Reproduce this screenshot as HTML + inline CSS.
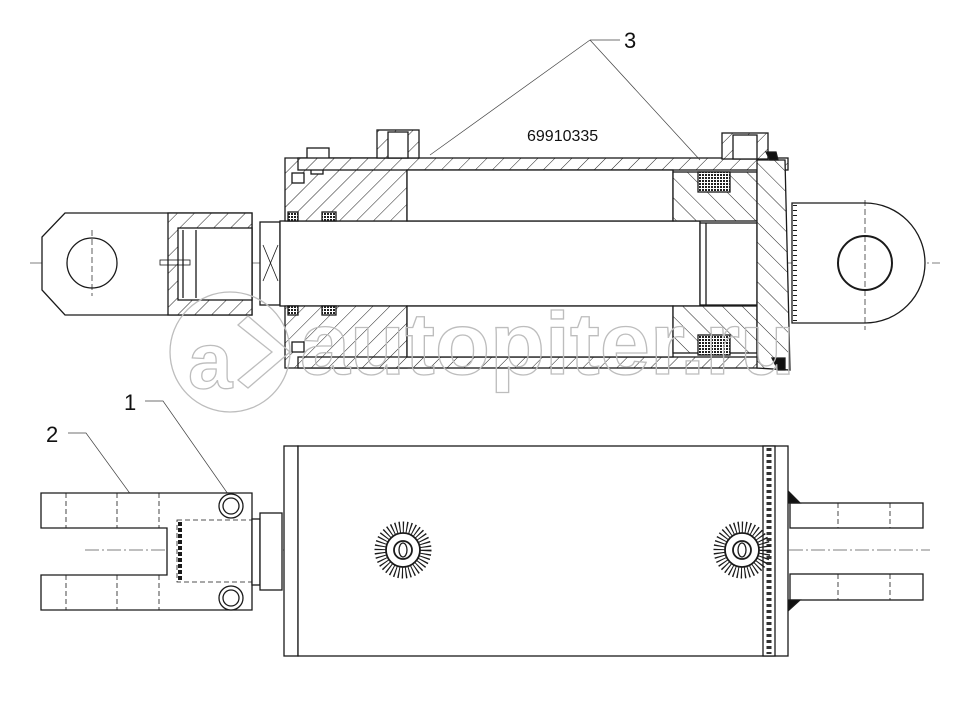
<!DOCTYPE html>
<html><head><meta charset="utf-8"><style>
html,body{margin:0;padding:0;background:#fff}
svg{display:block}
text{font-family:"Liberation Sans",sans-serif}
</style></head><body>
<svg width="970" height="708" viewBox="0 0 970 708" xmlns="http://www.w3.org/2000/svg">
<defs>
<pattern id="h" patternUnits="userSpaceOnUse" width="12" height="12" patternTransform="rotate(45)">
<rect width="12" height="12" fill="#fff"/><line x1="0" y1="0" x2="0" y2="12" stroke="#222" stroke-width="1"/></pattern>
<pattern id="h2" patternUnits="userSpaceOnUse" width="14" height="14" patternTransform="rotate(-45)">
<rect width="14" height="14" fill="#fff"/><line x1="0" y1="0" x2="0" y2="14" stroke="#222" stroke-width="1"/></pattern>
<pattern id="x" patternUnits="userSpaceOnUse" width="3" height="3">
<rect width="3" height="3" fill="#fff"/><rect width="2" height="2" fill="#222"/></pattern>
</defs>
<g fill="none" stroke="#1a1a1a" stroke-width="1.3">
<!-- centre lines -->
<line x1="30" y1="263" x2="940" y2="263" stroke="#555" stroke-width="0.8" stroke-dasharray="14 3 2 3"/>
<line x1="85" y1="550" x2="930" y2="550" stroke="#555" stroke-width="0.8" stroke-dasharray="14 3 2 3"/>
<!-- left eye -->
<path d="M65,213 L252,213 L252,315 L65,315 L42,290 L42,237 Z" fill="#fff"/>
<rect x="168" y="213" width="84" height="102" fill="url(#h)"/>
<rect x="178" y="228" width="74" height="72" fill="#fff"/>
<line x1="183" y1="230" x2="183" y2="298"/>
<line x1="196" y1="230" x2="196" y2="298"/>
<circle cx="92" cy="263" r="25"/>
<line x1="92" y1="230" x2="92" y2="296" stroke-width="0.7" stroke-dasharray="6 3"/>
<rect x="160" y="260" width="30" height="5" stroke-width="0.8"/>
<rect x="260" y="222" width="20" height="83" fill="#fff"/>
<path d="M263,245 L278,281 M278,245 L263,281" stroke-width="0.8"/>
<!-- rod -->
<rect x="280" y="221" width="420" height="85" fill="#fff"/>
<!-- head -->
<path d="M285,158 L407,158 L407,221 L285,221 Z" fill="url(#h)"/>
<path d="M285,306 L407,306 L407,368 L285,368 Z" fill="url(#h)"/>
<rect x="288" y="212" width="10" height="9" fill="url(#x)"/>
<rect x="322" y="212" width="14" height="9" fill="url(#x)"/>
<rect x="288" y="306" width="10" height="9" fill="url(#x)"/>
<rect x="322" y="306" width="14" height="9" fill="url(#x)"/>
<rect x="292" y="173" width="12" height="10" fill="#fff"/>
<rect x="292" y="342" width="12" height="10" fill="#fff"/>
<rect x="307" y="148" width="22" height="12" fill="#fff"/>
<rect x="311" y="160" width="12" height="14" fill="#fff"/>
<!-- tube -->
<rect x="298" y="158" width="490" height="12" fill="url(#h)"/>
<rect x="298" y="357" width="490" height="11" fill="url(#h)"/>
<rect x="407" y="170" width="266" height="51" fill="#fff"/>
<rect x="407" y="306" width="266" height="51" fill="#fff"/>
<!-- ports -->
<rect x="377" y="130" width="42" height="28" fill="url(#h)"/>
<rect x="388" y="132" width="20" height="26" fill="#fff"/>
<rect x="722" y="133" width="46" height="26" fill="url(#h)"/>
<rect x="733" y="135" width="24" height="24" fill="#fff"/>
<!-- piston -->
<rect x="673" y="172" width="84" height="49" fill="url(#h2)"/>
<rect x="673" y="306" width="84" height="47" fill="url(#h2)"/>
<rect x="698" y="172" width="32" height="20" fill="url(#x)"/>
<rect x="698" y="335" width="32" height="20" fill="url(#x)"/>
<rect x="700" y="223" width="57" height="82" fill="#fff"/>
<line x1="706" y1="223" x2="706" y2="305"/>
<!-- end cap -->
<path d="M757,160 L785,160 L790,370 L757,368 Z" fill="url(#h2)"/>
<path d="M766,152 L770,160 L778,160 L776,152 Z" fill="#111"/>
<path d="M772,358 L785,358 L785,370 L778,370 Z" fill="#111"/>
<!-- right eye -->
<path d="M792,203 L865,203 A60,60 0 0 1 865,323 L792,323 Z" fill="#fff"/>
<path d="M795,205 L795,321" stroke-width="4" stroke-dasharray="1 4"/>
<circle cx="865" cy="263" r="27" stroke-width="2"/>
<line x1="865" y1="200" x2="865" y2="330" stroke-width="0.7" stroke-dasharray="6 3"/>
<!-- labels -->
<text x="527" y="141" font-size="16" fill="#111" stroke="none">69910335</text>
<text x="624" y="48" font-size="22" fill="#111" stroke="none">3</text>
<path d="M590,40 L620,40 M590,40 L430,155 M590,40 L700,160" stroke="#444" stroke-width="0.7"/>
<text x="124" y="410" font-size="22" fill="#111" stroke="none">1</text>
<path d="M145,401 L163,401 L228,494" stroke="#444" stroke-width="0.7"/>
<text x="46" y="442" font-size="22" fill="#111" stroke="none">2</text>
<path d="M68,433 L86,433 L142,510" stroke="#444" stroke-width="0.7"/>
<!-- bottom view fork -->
<path d="M41,493 L252,493 L252,610 L41,610 L41,575 L167,575 L167,528 L41,528 Z" fill="#fff"/>
<g stroke-width="0.8" stroke-dasharray="5 3">
<line x1="66" y1="493" x2="66" y2="528"/><line x1="66" y1="575" x2="66" y2="610"/>
<line x1="117" y1="493" x2="117" y2="528"/><line x1="117" y1="575" x2="117" y2="610"/>
<line x1="159" y1="493" x2="159" y2="528"/><line x1="159" y1="575" x2="159" y2="610"/>
<rect x="177" y="520" width="75" height="62"/>
</g>
<path d="M180,522 L180,580" stroke-width="4" stroke-dasharray="4 2"/>
<circle cx="231" cy="506" r="12" fill="#fff"/><circle cx="231" cy="506" r="8"/>
<circle cx="231" cy="598" r="12" fill="#fff"/><circle cx="231" cy="598" r="8"/>
<rect x="252" y="519" width="8" height="66" fill="#fff"/>
<rect x="260" y="513" width="22" height="77" fill="#fff"/>
<!-- bottom tube -->
<rect x="284" y="446" width="14" height="210" fill="#fff"/>
<rect x="298" y="446" width="490" height="210" fill="#fff"/>
<rect x="763" y="446" width="12" height="210" fill="#fff"/>
<line x1="769" y1="448" x2="769" y2="654" stroke-width="5" stroke-dasharray="3 3" stroke="#333"/>
<!-- lugs -->
<rect x="790" y="503" width="133" height="25" fill="#fff"/>
<rect x="790" y="574" width="133" height="26" fill="#fff"/>
<g stroke-width="0.8" stroke-dasharray="5 3">
<line x1="838" y1="503" x2="838" y2="528"/><line x1="838" y1="574" x2="838" y2="600"/>
<line x1="890" y1="503" x2="890" y2="528"/><line x1="890" y1="574" x2="890" y2="600"/>
</g>
<path d="M789,492 L800,503 L789,503 Z M789,610 L800,600 L789,600 Z" fill="#111"/>
<!-- weld rosettes -->
<g>
<circle cx="403" cy="550" r="23" stroke-width="11" stroke-dasharray="1.2 2.4"/>
<circle cx="403" cy="550" r="17" stroke-width="1.8" fill="#fff"/>
<circle cx="403" cy="550" r="9" stroke-width="1.8"/>
<ellipse cx="403" cy="550" rx="4" ry="7"/>
</g>
<g>
<circle cx="742" cy="550" r="23" stroke-width="11" stroke-dasharray="1.2 2.4"/>
<circle cx="742" cy="550" r="17" stroke-width="1.8" fill="#fff"/>
<circle cx="742" cy="550" r="9" stroke-width="1.8"/>
<ellipse cx="742" cy="550" rx="4" ry="7"/>
</g>
<!-- watermark (on top, outline only) -->
<g stroke="#bdbdbd" stroke-width="1.3" fill="none">
<circle cx="230" cy="352" r="60"/>
<text x="188" y="388" font-size="80" font-weight="bold" fill="none" stroke="#bdbdbd">a</text>
<path d="M238,325 L272,352 L238,380 L248,388 L290,352 L248,316 Z"/>
<text x="300" y="374" font-size="88" font-weight="bold" fill="none" stroke="#bdbdbd" textLength="495" lengthAdjust="spacingAndGlyphs">autopiter.ru</text>
</g>
</g>
</svg>
</body></html>
